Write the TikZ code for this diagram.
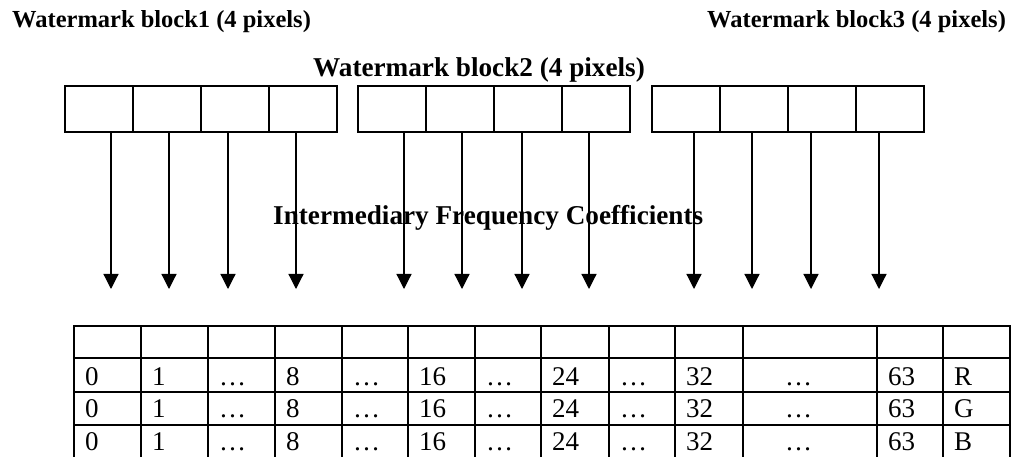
\documentclass[tikz,border=0pt]{standalone}
\usepackage{fontspec}
\setmainfont{Liberation Serif}
\usetikzlibrary{arrows.meta}
\begin{document}
\begin{tikzpicture}[x=1pt,y=-1pt,
  cellbox/.style={draw,line width=1.4pt,minimum width=68pt,minimum height=46pt,anchor=north west,inner sep=0pt,outer sep=0pt},
  arr/.style={line width=1.2pt,-{Triangle[width=15pt,length=15pt]}},
  smalltitle/.style={anchor=base west,inner sep=0pt,font=\fontsize{24.5}{28}\selectfont\bfseries},
  bigtitle/.style={anchor=base west,inner sep=0pt,font=\fontsize{27.2}{30}\selectfont\bfseries},
  tabtext/.style={anchor=base west,inner sep=0pt,font=\fontsize{27}{30}\selectfont},
  grid/.style={line width=1.8pt}]
\useasboundingbox (0,0) rectangle (1021,457);

% titles
\node[smalltitle] (lab1) at (12,28) {Watermark block1 (4 pixels)};
\node[smalltitle] (lab3) at (707,28) {Watermark block3 (4 pixels)};
\node[bigtitle] (lab2) at (313,77) {Watermark block2 (4 pixels)};

% watermark blocks
\foreach \b/\x in {1/65,2/358,3/652}{
  \foreach \c in {1,2,3,4}{
    \node[cellbox] (b\b c\c) at ({\x+(\c-1)*68},86) {};
  }
}

% arrow tips
\foreach \b/\xa/\xb/\xc/\xd in {1/111/169/228/296, 2/404/462/522/589, 3/694/752/811/879}{
  \coordinate (t\b 1) at (\xa,289);
  \coordinate (t\b 2) at (\xb,289);
  \coordinate (t\b 3) at (\xc,289);
  \coordinate (t\b 4) at (\xd,289);
}

\node[bigtitle] (ifc) at (273,225) {Intermediary Frequency Coefficients};

\foreach \b in {1,2,3}{
  \foreach \c in {1,2,3,4}{
    \draw[arr] (b\b c\c.south -| t\b\c) -- (t\b\c);
  }
}

% table grid
\foreach \yy in {326,358,392,425}{
  \draw[grid] (73.1,\yy) -- (1010.9,\yy);
}
\foreach \xx in {74,141,208,275,342,408,475,541,609,675,743,877,943,1010}{
  \draw[grid] (\xx,325.1) -- (\xx,460);
}

% table texts
\foreach \r/\yy/\ch in {1/385/R,2/417/G,3/450/B}{
  \node[tabtext] (r\r c1) at (85,\yy) {0};
  \node[tabtext] (r\r c2) at (152,\yy) {1};
  \node[tabtext] (r\r c3) at (219,\yy) {…};
  \node[tabtext] (r\r c4) at (286,\yy) {8};
  \node[tabtext] (r\r c5) at (353,\yy) {…};
  \node[tabtext] (r\r c6) at (419,\yy) {16};
  \node[tabtext] (r\r c7) at (486,\yy) {…};
  \node[tabtext] (r\r c8) at (552,\yy) {24};
  \node[tabtext] (r\r c9) at (620,\yy) {…};
  \node[tabtext] (r\r c10) at (686,\yy) {32};
  \node[tabtext] (r\r c11) at (785,\yy) {…};
  \node[tabtext] (r\r c12) at (888,\yy) {63};
  \node[tabtext] (r\r c13) at (954,\yy) {\ch};
}
\end{tikzpicture}
\end{document}
